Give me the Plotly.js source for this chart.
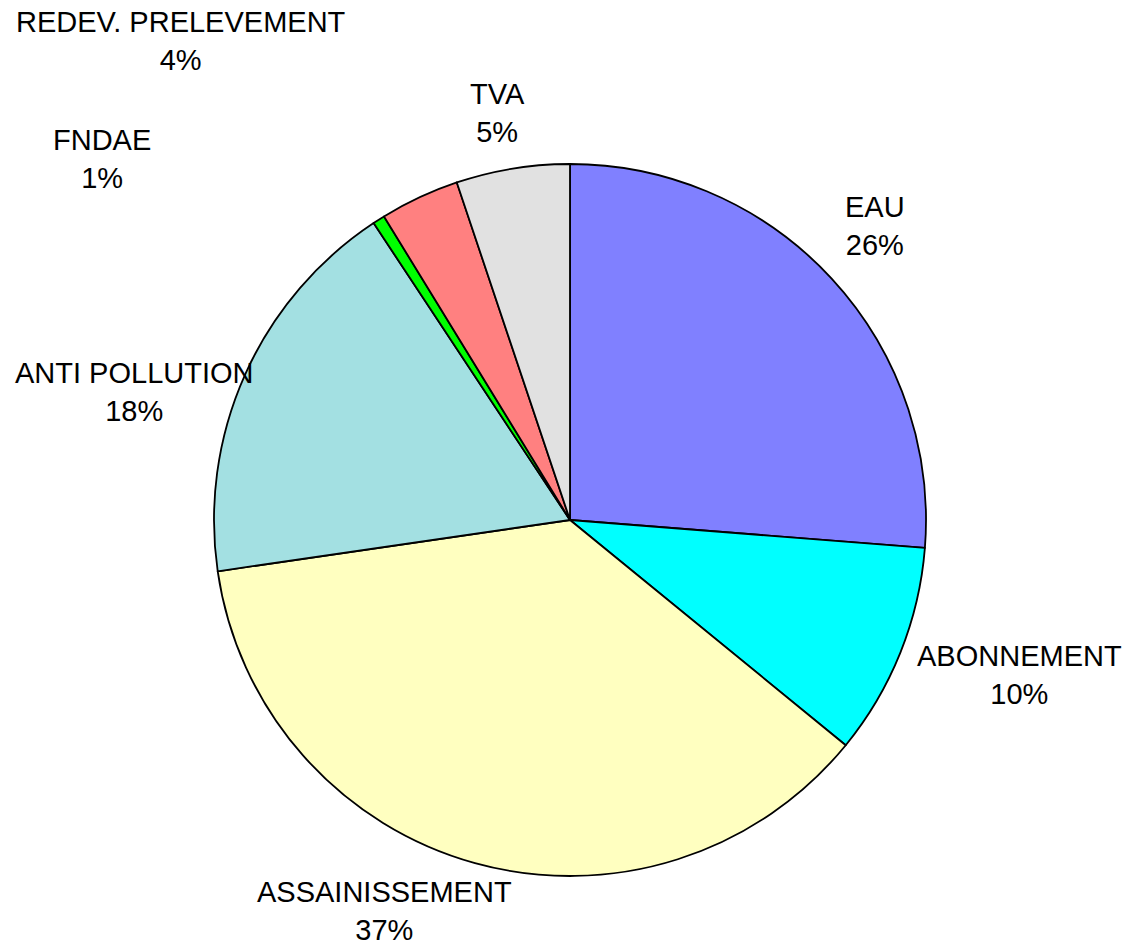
<!DOCTYPE html>
<html>
<head>
<meta charset="utf-8">
<script src="https://cdn.plot.ly/plotly-3.0.1.min.js"></script>
<style>html,body{margin:0;padding:0;background:#fff;}#chart{width:1132px;height:949px;}</style>
</head>
<body>
<div id="chart"></div>
<script>
// Data (clockwise from 12 o'clock)
const categories = ["EAU", "ABONNEMENT", "ASSAINISSEMENT", "ANTI POLLUTION", "FNDAE", "REDEV. PRELEVEMENT", "TVA"];
const shares = [26.25, 9.65, 36.8, 18.0, 0.55, 3.6, 5.15];
const sliceColors = ["#8080FF", "#00FFFF", "#FFFFC0", "#A3E0E2", "#00FF00", "#FF8080", "#E1E1E1"];

// Label placement (pixel centres in the 1132x949 canvas)
const labelPx = [[875, 226], [1019, 675], [384, 911], [134, 392], [102, 159], [181, 41], [497, 113]];

const W = 1132, H = 949;
const total = shares.reduce((a, b) => a + b, 0);
const annotations = categories.map((c, i) => ({
  text: c + "<br>" + Math.round(shares[i] / total * 100) + "%",
  x: labelPx[i][0] / W, y: 1 - labelPx[i][1] / H,
  xref: "paper", yref: "paper", xanchor: "center", yanchor: "middle",
  showarrow: false, align: "center",
  font: {family: "Liberation Sans, Arial, sans-serif", size: 29, color: "#000"}
}));

const cx = 570, cy = 520, r = 356;
const trace = {
  type: "pie",
  labels: categories,
  values: shares,
  sort: false,
  direction: "clockwise",
  rotation: 0,
  textinfo: "none",
  hoverinfo: "label+percent",
  marker: {colors: sliceColors, line: {color: "#000", width: 1.8}},
  domain: {x: [(cx - r) / W, (cx + r) / W], y: [(H - cy - r) / H, (H - cy + r) / H]}
};

Plotly.newPlot("chart", [trace], {
  width: W, height: H,
  margin: {l: 0, r: 0, t: 0, b: 0},
  paper_bgcolor: "#fff",
  showlegend: false,
  annotations: annotations
}, {displayModeBar: false, staticPlot: true});
</script>
</body>
</html>
